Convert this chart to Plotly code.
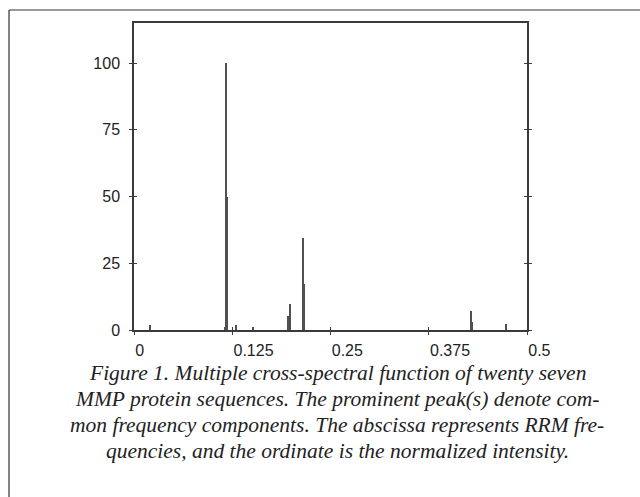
import plotly.graph_objects as go

# ---- data ----
freq = [0.0204, 0.1160, 0.1170, 0.1183, 0.1300, 0.1520, 0.1968, 0.1990,
        0.2147, 0.2164, 0.4286, 0.4300, 0.4740]
intensity = [2.0, 1.0, 100.0, 50.0, 2.0, 1.0, 5.2, 9.7,
             34.6, 17.1, 7.2, 3.1, 2.2]
x_ticks = [0, 0.125, 0.25, 0.375, 0.5]
x_tick_labels = ["0", "0.125", "0.25", "0.375", "0.5"]
y_ticks = [0, 25, 50, 75, 100]
y_tick_labels = ["0", "25", "50", "75", "100"]
caption_lines = [
    "Figure 1. Multiple cross-spectral function of twenty seven",
    "MMP protein sequences. The prominent peak(s) denote com-",
    "mon frequency components. The abscissa represents RRM fre-",
    "quencies, and the ordinate is the normalized intensity.",
]

# ---- layout geometry (pixels) ----
W, H = 640, 497
L, R, T, B = 134, 527, 23, 330
pw, ph = R - L, B - T


def px_x(px):
    return (px - L) / pw


def px_y(py):
    return (B - py) / ph


AX = "#3a3a3a"
TXT = "#222222"
tick_font = dict(family="Liberation Sans Narrow, Liberation Sans, Arial", size=16, color=TXT)

fig = go.Figure()
fig.add_trace(go.Bar(x=freq, y=intensity, width=0.0019,
                     marker=dict(color="#505050", line=dict(width=0)),
                     showlegend=False, hoverinfo="x+y"))
fig.add_trace(go.Scatter(x=[0], y=[0], xaxis="x2", yaxis="y2", mode="markers",
                         marker=dict(opacity=0), showlegend=False, hoverinfo="skip"))

fig.update_layout(
    width=W, height=H,
    margin=dict(l=L, r=W - R, t=T, b=H - B, pad=0),
    paper_bgcolor="white", plot_bgcolor="white",
    bargap=0,
    xaxis=dict(range=[0, 0.5], tickvals=x_ticks, ticktext=x_tick_labels,
               ticks="outside", ticklen=3, tickcolor=AX, tickwidth=1,
               ticklabelposition="outside right", ticklabelstandoff=5,
               showline=True, linecolor=AX, linewidth=1.5, mirror=True,
               showgrid=False, zeroline=False, tickfont=tick_font, fixedrange=True),
    yaxis=dict(range=[0, 115], tickvals=y_ticks, ticktext=y_tick_labels,
               ticks="outside", ticklen=3, tickcolor=AX, tickwidth=1,
               ticklabelstandoff=6,
               showline=True, linecolor=AX, linewidth=1.5, mirror="ticks",
               showgrid=False, zeroline=False, tickfont=tick_font, fixedrange=True),
    xaxis2=dict(overlaying="x", matches="x", anchor="y", side="bottom",
                tickvals=x_ticks, ticks="inside", ticklen=3, tickcolor=AX,
                showticklabels=False, showline=False, showgrid=False, zeroline=False),
    yaxis2=dict(overlaying="y", matches="y", anchor="x", side="left",
                tickvals=y_ticks, ticks="inside", ticklen=3, tickcolor=AX,
                mirror="ticks", showticklabels=False, showline=False,
                showgrid=False, zeroline=False),
    shapes=[
        dict(type="line", xref="paper", yref="paper",
             x0=px_x(9), x1=px_x(W + 5), y0=px_y(10), y1=px_y(10),
             line=dict(color="#333333", width=1.2)),
        dict(type="line", xref="paper", yref="paper",
             x0=px_x(9), x1=px_x(9), y0=px_y(10), y1=px_y(H + 5),
             line=dict(color="#333333", width=1.2)),
    ],
)

centers = [373, 399, 425, 451]
for line, cy in zip(caption_lines, centers):
    fig.add_annotation(text="<i>" + line + "</i>", xref="paper", yref="paper",
                       x=px_x(337), y=px_y(cy), xanchor="center", yanchor="middle",
                       showarrow=False,
                       font=dict(family="Liberation Serif, Times New Roman, serif",
                                 size=21.5, color=TXT))

fig.write_html("out.html", config={"displayModeBar": False},
               post_script="document.body.style.margin='0';document.body.style.overflow='hidden';")
